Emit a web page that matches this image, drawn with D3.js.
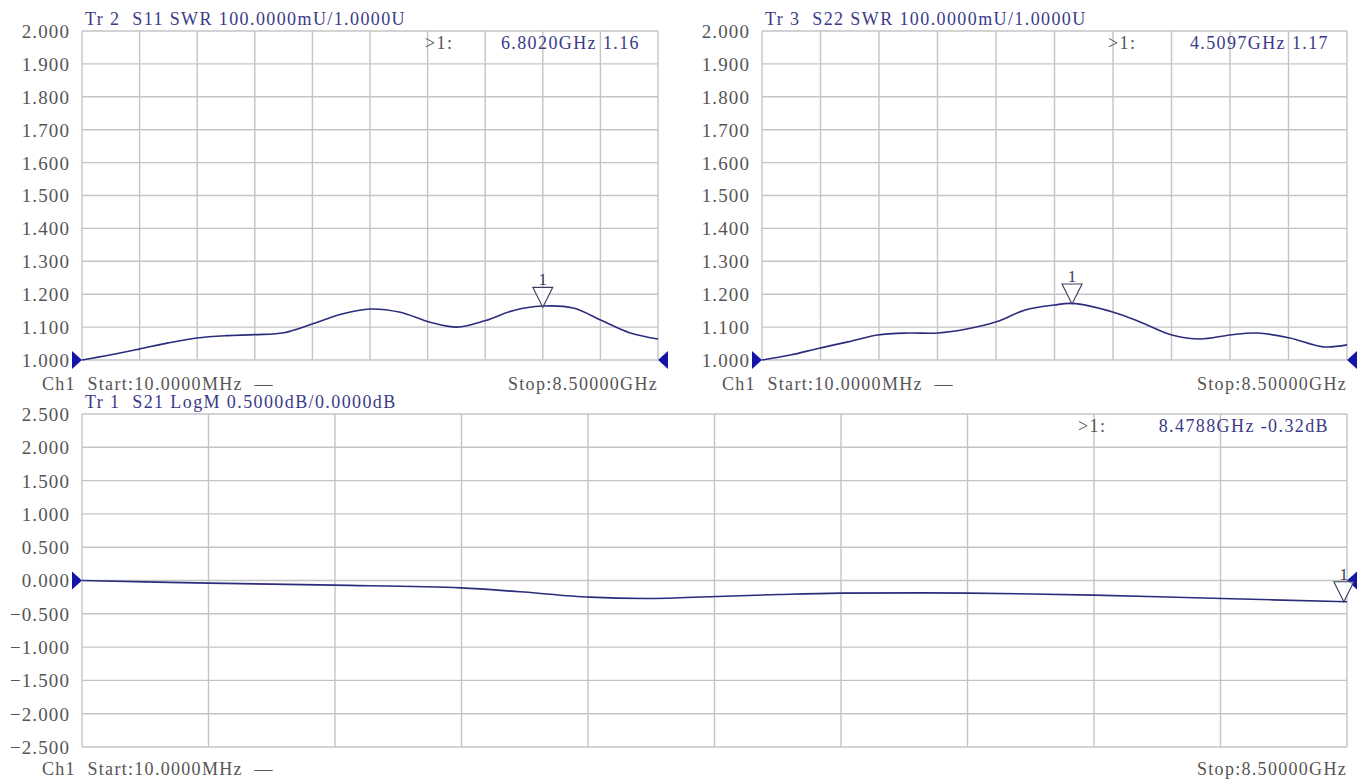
<!DOCTYPE html>
<html>
<head>
<meta charset="utf-8">
<script src="https://cdn.jsdelivr.net/npm/d3@7"></script>
<style>
  body { margin: 0; background: #fff; }
  svg text { font-family: "Liberation Serif", "DejaVu Serif", serif; white-space: pre; }
</style>
</head>
<body>
<div id="root"></div>
<script>
// Tr 2, S11 SWR (GHz / ratio)
const s11Freq = [0.01, 0.42, 0.85, 1.28, 1.70, 2.13, 2.56, 2.99, 3.41, 3.84, 4.26, 4.70, 5.14, 5.54, 5.96, 6.36, 6.80, 7.25, 7.67, 8.08, 8.50];
const s11Swr = [1.000, 1.015, 1.033, 1.052, 1.067, 1.074, 1.077, 1.083, 1.110, 1.140, 1.155, 1.145, 1.115, 1.100, 1.120, 1.150, 1.164, 1.158, 1.120, 1.083, 1.064];

// Tr 3, S22 SWR
const s22Freq = [0.01, 0.42, 0.84, 1.26, 1.69, 2.13, 2.56, 2.98, 3.41, 3.83, 4.25, 4.51, 5.10, 5.54, 5.96, 6.37, 6.80, 7.19, 7.67, 8.15, 8.50];
const s22Swr = [1.000, 1.015, 1.036, 1.055, 1.076, 1.082, 1.082, 1.094, 1.116, 1.152, 1.167, 1.172, 1.146, 1.112, 1.076, 1.064, 1.076, 1.082, 1.067, 1.040, 1.046];

// Tr 1, S21 LogM (dB)
const s21Freq = [0.01, 0.86, 1.70, 2.55, 2.95, 3.42, 3.82, 4.26, 4.69, 5.10, 5.96, 6.80, 7.66, 8.50];
const s21Db = [0.00, -0.04, -0.07, -0.11, -0.17, -0.25, -0.27, -0.24, -0.21, -0.19, -0.19, -0.22, -0.27, -0.32];

const swrTicks = [1.0, 1.1, 1.2, 1.3, 1.4, 1.5, 1.6, 1.7, 1.8, 1.9, 2.0];
const dbTicks = [-2.5, -2.0, -1.5, -1.0, -0.5, 0.0, 0.5, 1.0, 1.5, 2.0, 2.5];
const freqSpan = [0.01, 8.5];

const markers = [
  { trace: "Tr 2", freq: 6.802, value: 1.16, label: "6.8020GHz 1.16" },
  { trace: "Tr 3", freq: 4.5097, value: 1.17, label: "4.5097GHz 1.17" },
  { trace: "Tr 1", freq: 8.4788, value: -0.32, label: "8.4788GHz -0.32dB" },
];

const width = 1362;
const height = 780;
const gridColor = "#c4c4c4";
const traceColor = "#2c2c7c";
const headColor = "#3a3a88";
const labelColor = "#555555";
const refColor = "#1414a8";

const svg = d3.select("#root").append("svg")
  .attr("width", width)
  .attr("height", height);

const panels = [
  {
    title: "Tr 2  S11 SWR 100.0000mU/1.0000U",
    left: 82, right: 658, top: 31, bottom: 360,
    freq: s11Freq, values: s11Swr, ticks: swrTicks, ref: 1.0,
    marker: markers[0], chX: 42, footY: 390, readX: 425,
  },
  {
    title: "Tr 3  S22 SWR 100.0000mU/1.0000U",
    left: 762, right: 1347, top: 31, bottom: 360,
    freq: s22Freq, values: s22Swr, ticks: swrTicks, ref: 1.0,
    marker: markers[1], chX: 722, footY: 390, readX: 1108,
  },
  {
    title: "Tr 1  S21 LogM 0.5000dB/0.0000dB",
    left: 82, right: 1347, top: 414, bottom: 747,
    freq: s21Freq, values: s21Db, ticks: dbTicks, ref: 0.0,
    marker: markers[2], chX: 42, footY: 775, readX: 1078,
  },
];

panels.forEach(drawPanel);

function drawPanel(p) {
  const x = d3.scaleLinear(freqSpan, [p.left, p.right]);
  const y = d3.scaleLinear(d3.extent(p.ticks), [p.bottom, p.top]);
  const g = svg.append("g");

  // grid: 10 divisions each way
  const xDivs = d3.range(11).map(i => freqSpan[0] + i * (freqSpan[1] - freqSpan[0]) / 10);
  g.append("g")
    .selectAll("line")
    .data(xDivs)
    .join("line")
    .attr("x1", d => x(d)).attr("x2", d => x(d))
    .attr("y1", p.top).attr("y2", p.bottom)
    .attr("stroke", gridColor)
    .attr("stroke-width", 1.4);

  g.append("g")
    .selectAll("line")
    .data(p.ticks)
    .join("line")
    .attr("x1", p.left).attr("x2", p.right)
    .attr("y1", d => y(d)).attr("y2", d => y(d))
    .attr("stroke", gridColor)
    .attr("stroke-width", 1.4);

  // y tick labels
  const axis = g.append("g")
    .attr("transform", `translate(${p.left - 12},0)`)
    .call(d3.axisLeft(y).tickValues(p.ticks).tickFormat(d3.format(".3f")).tickSize(0));
  axis.select(".domain").remove();
  axis.selectAll("text")
    .attr("x", 0)
    .attr("dy", "0.34em")
    .attr("fill", labelColor)
    .style("font-size", "19px")
    .style("letter-spacing", "1.1px")
    .style("font-family", "\"Liberation Serif\", serif");

  // header
  g.append("text")
    .attr("x", p.left + 3)
    .attr("y", p.top - 6)
    .attr("fill", headColor)
    .style("font-size", "18px")
    .style("letter-spacing", "1.4px")
    .text(p.title);

  // trace
  const line = d3.line()
    .x((d, i) => x(p.freq[i]))
    .y(d => y(d))
    .curve(d3.curveCatmullRom.alpha(0.5));
  g.append("path")
    .datum(p.values)
    .attr("fill", "none")
    .attr("stroke", traceColor)
    .attr("stroke-width", 1.6)
    .attr("d", line);

  // reference level arrows
  const ry = y(p.ref);
  g.append("path")
    .attr("d", `M${p.left},${ry} L${p.left - 10},${ry - 9} L${p.left - 10},${ry + 9} Z`)
    .attr("fill", refColor);
  g.append("path")
    .attr("d", `M${p.right},${ry} L${p.right + 10},${ry - 9} L${p.right + 10},${ry + 9} Z`)
    .attr("fill", refColor);

  // marker
  const m = p.marker;
  const mx = x(m.freq);
  const my = y(m.value);
  g.append("path")
    .attr("d", `M${mx},${my} L${mx - 10},${my - 20} L${mx + 10},${my - 20} Z`)
    .attr("fill", "white")
    .attr("fill-opacity", 0.7)
    .attr("stroke", "#3c3c5c")
    .attr("stroke-width", 1.1);
  g.append("text")
    .attr("x", mx)
    .attr("y", my - 22)
    .attr("text-anchor", "middle")
    .attr("fill", "#3c3c5c")
    .style("font-size", "17px")
    .text("1");

  // marker readout
  g.append("text")
    .attr("x", p.right - 18)
    .attr("y", p.top + 18)
    .attr("text-anchor", "end")
    .attr("fill", headColor)
    .style("font-size", "18px")
    .style("letter-spacing", "1.4px")
    .text(m.label);
  g.append("text")
    .attr("x", p.readX)
    .attr("y", p.top + 18)
    .attr("fill", labelColor)
    .style("font-size", "18px")
    .style("letter-spacing", "1.4px")
    .text(">1:");

  // footer
  g.append("text")
    .attr("x", p.chX)
    .attr("y", p.footY)
    .attr("fill", labelColor)
    .style("font-size", "18px")
    .style("letter-spacing", "1.3px")
    .text("Ch1  Start:10.0000MHz  \u2014");
  g.append("text")
    .attr("x", p.right)
    .attr("y", p.footY)
    .attr("text-anchor", "end")
    .attr("fill", labelColor)
    .style("font-size", "18px")
    .style("letter-spacing", "1.3px")
    .text("Stop:8.50000GHz");
}
</script>
</body>
</html>
